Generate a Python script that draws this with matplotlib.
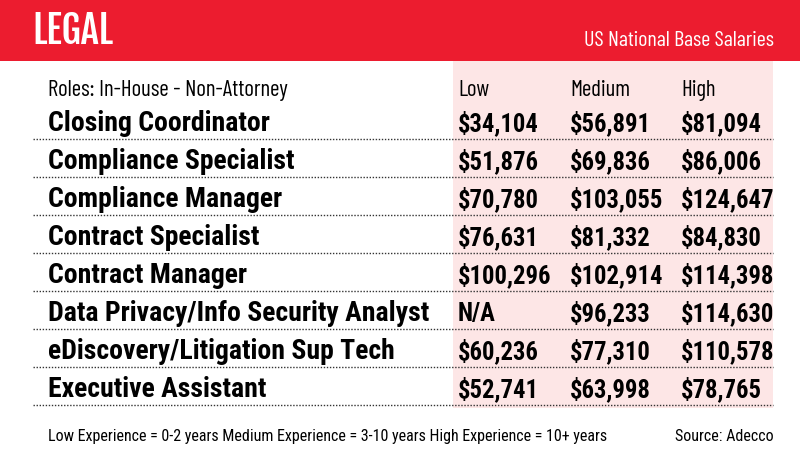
import matplotlib.pyplot as plt
from matplotlib.patches import Rectangle

roles = ["Closing Coordinator", "Compliance Specialist", "Compliance Manager",
         "Contract Specialist", "Contract Manager", "Data Privacy/Info Security Analyst",
         "eDiscovery/Litigation Sup Tech", "Executive Assistant"]
low = ["$34,104", "$51,876", "$70,780", "$76,631", "$100,296", "N/A", "$60,236", "$52,741"]
medium = ["$56,891", "$69,836", "$103,055", "$81,332", "$102,914", "$96,233", "$77,310", "$63,998"]
high = ["$81,094", "$86,006", "$124,647", "$84,830", "$114,398", "$114,630", "$110,578", "$78,765"]
columns = ["Low", "Medium", "High"]

RED = "#ec1c2f"
PINK = "#fde6e6"
FONT = ["Roboto Condensed", "DejaVu Sans"]
NARROW = ["Barlow Condensed", "Roboto Condensed", "DejaVu Sans"]
TITLE_FONT = ["Fjalla One", "League Gothic", "DejaVu Sans"]

fig = plt.figure(figsize=(8, 4.5), dpi=100)
ax = fig.add_axes([0, 0, 1, 1])
ax.set_xlim(0, 800)
ax.set_ylim(450, 0)
ax.axis("off")

# banner
ax.add_patch(Rectangle((0, 0), 800, 61, color=RED, lw=0))
ax.text(32, 43.5, "LEGAL", color="white", fontsize=27.5,
        family=TITLE_FONT, va="baseline", ha="left")
ax.text(774, 46.5, "US National Base Salaries", color="white", fontsize=15.8,
        family=NARROW, va="baseline", ha="right")

# pink salary block
ax.add_patch(Rectangle((453, 61), 320, 347, color=PINK, lw=0))

col_x = [458, 570, 681]
ax.text(48, 96, "Roles: In-House - Non-Attorney", fontsize=16.5, family=NARROW,
        va="baseline", ha="left", color="black")
for x, c in zip(col_x, columns):
    ax.text(x, 96, c, fontsize=16.5, family=NARROW, va="baseline", ha="left")

row_y0 = 131
row_h = 38
for i, role in enumerate(roles):
    y = row_y0 + i * row_h
    ax.text(48, y, role, fontsize=20, fontweight="bold", family=FONT,
            va="baseline", ha="left")
    for x, v in zip(col_x, [low[i], medium[i], high[i]]):
        ax.text(x, y, v, fontsize=17.7, fontweight="bold", family=FONT,
                va="baseline", ha="left")
    ax.plot([33, 773], [y + 8, y + 8], color="#333333", lw=1.0,
            ls=(0, (1, 1.2)))

ax.text(48, 441, "Low Experience = 0-2 years Medium Experience = 3-10 years High Experience = 10+ years",
        fontsize=11.5, family=FONT, va="baseline", ha="left")
ax.text(774, 441, "Source: Adecco", fontsize=11.5, family=FONT, va="baseline", ha="right")

fig.savefig("out.png", dpi=100)
